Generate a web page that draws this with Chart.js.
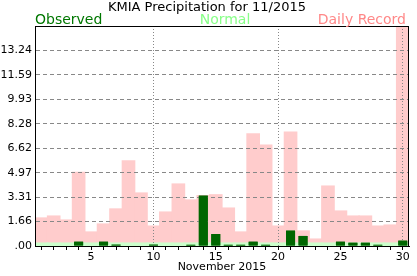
<!DOCTYPE html>
<html>
<head>
<meta charset="utf-8">
<script src="https://cdn.jsdelivr.net/npm/chart.js@4"></script>
<style>
  body { margin: 0; background: #fff; }
  canvas { display: block; }
</style>
</head>
<body>
<canvas id="c" width="417" height="276"></canvas>
<script>
// data
const days = [1,2,3,4,5,6,7,8,9,10,11,12,13,14,15,16,17,18,19,20,21,22,23,24,25,26,27,28,29,30];
const observed = [0,0,0,0.29,0,0.29,0.09,0,0,0.09,0,0,0.08,3.41,0.81,0.08,0.08,0.29,0.08,0,1.04,0.68,0,0,0.29,0.22,0.22,0.08,0,0.36];
const normal = [0.2,0.2,0.2,0.2,0.2,0.2,0.2,0.2,0.2,0.2,0.2,0.2,0.2,0.2,0.2,0.2,0.2,0.2,0.2,0.2,0.2,0.2,0.2,0.2,0.2,0.2,0.2,0.2,0.2,0.2];
const record = [1.90,2.03,1.76,4.99,0.95,1.49,2.51,5.76,3.59,1.35,2.30,4.20,3.12,3.41,3.47,2.57,0.95,7.59,6.84,1.35,7.72,1.02,0.47,4.06,2.37,2.03,2.03,1.35,1.42,15.2];
const yTickLabels = ['.00','1.66','3.31','4.97','6.62','8.28','9.93','11.59','13.24'];
const yMax = 14.9;

const FONT = 'DejaVu Sans';

// titles, legend text, plot frame; observed bars go back on top of the grid
const overlay = {
    id: 'overlay',
    afterDraw(chart) {
        const ctx = chart.ctx;
        const a = chart.chartArea;
        chart.getDatasetMeta(0).controller.draw();

        ctx.save();
        ctx.strokeStyle = '#000';
        ctx.lineWidth = 1;
        ctx.strokeRect(a.left + 0.5, a.top + 0.5, a.right - a.left - 1, a.bottom - a.top);

        ctx.textBaseline = 'alphabetic';
        ctx.fillStyle = '#000';
        ctx.font = '13px "' + FONT + '"';
        ctx.textAlign = 'center';
        ctx.fillText('KMIA Precipitation for 11/2015', 207, 11);

        ctx.font = '14px "' + FONT + '"';
        ctx.textAlign = 'left';
        ctx.fillStyle = '#007700';
        ctx.fillText('Observed', a.left, 24);
        ctx.textAlign = 'center';
        ctx.fillStyle = '#88ff88';
        ctx.fillText('Normal', 225, 24);
        ctx.textAlign = 'right';
        ctx.fillStyle = '#ff8888';
        ctx.fillText('Daily Record', 406, 24);
        ctx.restore();
    }
};

new Chart(document.getElementById('c'), {
    type: 'bar',
    data: {
        labels: days,
        datasets: [
            {
                label: 'Observed',
                data: observed,
                backgroundColor: '#006600',
                grouped: false,
                barPercentage: 0.72,
                categoryPercentage: 1,
                order: 1
            },
            {
                label: 'Normal',
                data: normal,
                backgroundColor: '#ccffcc',
                grouped: false,
                barPercentage: 1,
                categoryPercentage: 1,
                inflateAmount: 0.6,
                order: 2
            },
            {
                label: 'Daily Record',
                data: record,
                backgroundColor: '#ffcccc',
                grouped: false,
                barPercentage: 1,
                categoryPercentage: 1,
                inflateAmount: 0.6,
                order: 3
            }
        ]
    },
    options: {
        responsive: false,
        animation: false,
        events: [],
        layout: { padding: { top: 26, right: 8, left: 0, bottom: 0 } },
        plugins: {
            legend: { display: false },
            title: { display: false },
            tooltip: { enabled: false }
        },
        scales: {
            x: {
                offset: true,
                grid: {
                    offset: false,
                    z: 1,
                    color: ctx => (ctx.tick && days[ctx.index] % 10 === 0) ? '#888' : 'rgba(0,0,0,0)',
                    tickColor: '#000',
                    tickLength: 4,
                    tickWidth: 1
                },
                border: { color: '#000', width: 1, dash: [1, 2], z: 1 },
                ticks: {
                    autoSkip: false,
                    maxRotation: 0,
                    padding: 1,
                    color: '#000',
                    font: { family: FONT, size: 11 },
                    callback: (v, i) => days[i] % 5 === 0 ? String(days[i]) : ''
                },
                title: {
                    display: true,
                    text: 'November 2015',
                    color: '#000',
                    font: { family: FONT, size: 11 },
                    padding: { top: 0, bottom: 2 }
                },
                afterFit: s => { s.height = 30; }
            },
            y: {
                min: 0,
                max: yMax,
                afterBuildTicks: s => {
                    s.ticks = yTickLabels.map((t, i) => ({ value: i * yMax / 9 }));
                },
                grid: {
                    z: 1,
                    drawTicks: false,
                    color: ctx => (ctx.tick && ctx.index > 0) ? '#888' : 'rgba(0,0,0,0)'
                },
                border: { color: '#000', width: 1, dash: [4, 3], z: 1 },
                ticks: {
                    padding: 3,
                    color: '#000',
                    font: { family: FONT, size: 11 },
                    callback: (v, i) => yTickLabels[i]
                },
                afterFit: s => { s.width = 35; }
            }
        }
    },
    plugins: [overlay]
});
</script>
</body>
</html>
